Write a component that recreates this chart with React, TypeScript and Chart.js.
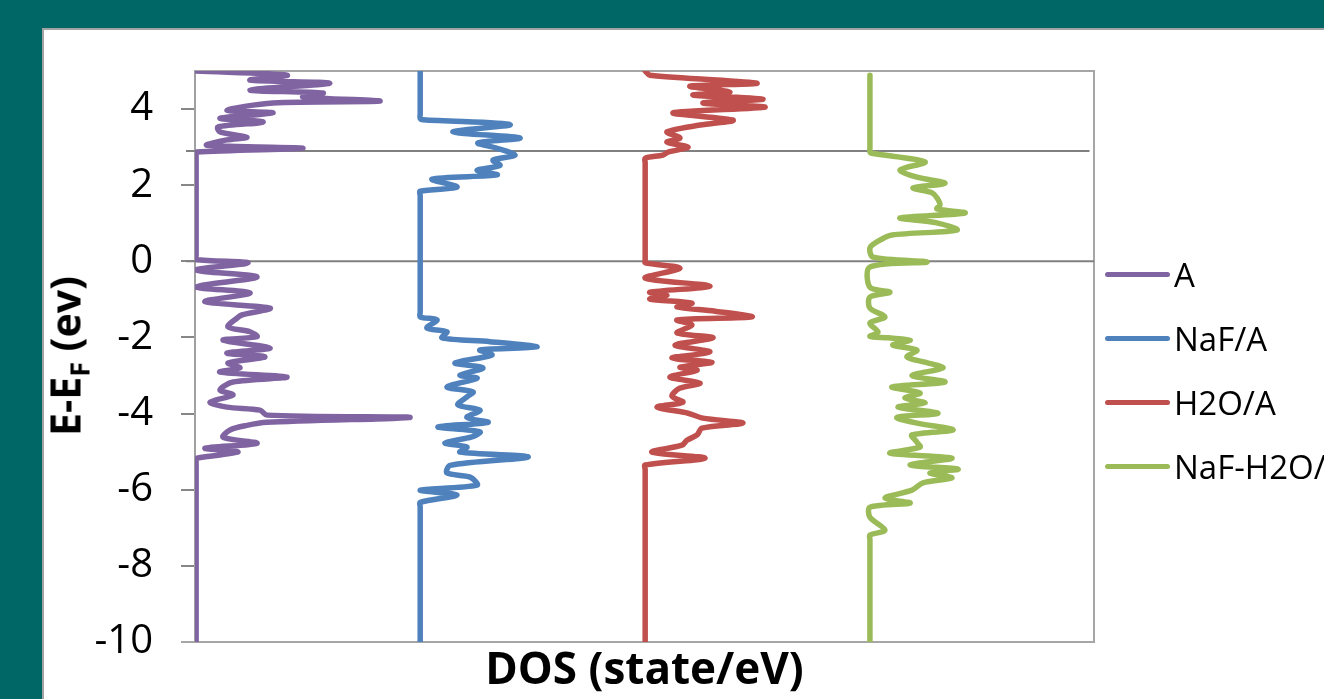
import React, { useEffect, useRef } from "react";
import { Chart, registerables } from "chart.js";

Chart.register(...registerables);

// ---------- data ----------
const seriesNames = ["A", "NaF/A", "H2O/A", "NaF-H2O/A"];
const seriesColors = ["#8064A2", "#4F81BD", "#C0504D", "#9BBB59"];
const seriesOffsets = [0, 10, 20, 30];

const aEnergy = [5.0, 4.89, 4.76, 4.68, 4.5, 4.42, 4.32, 4.21, 4.16, 3.97, 3.9, 3.76, 3.66, 3.53, 3.4, 3.26, 3.19, 3.05, 2.97, 2.87, 2.8, 2.68, 0.15, 0.05, -0.04, -0.23, -0.41, -0.67, -0.83, -1.06, -1.23, -1.41, -1.49, -1.72, -1.85, -1.98, -2.07, -2.28, -2.41, -2.51, -2.67, -2.8, -2.91, -3.04, -3.17, -3.38, -3.51, -3.7, -3.83, -3.91, -4.04, -4.1, -4.23, -4.31, -4.43, -4.62, -4.78, -4.91, -5.01, -5.17, -5.25, -5.37, -10];
const aDos = [0.05, 4.1, 2.45, 6.0, 2.45, 5.7, 4.8, 8.23, 3.47, 1.42, 3.47, 1.11, 3.03, 1.02, 1.11, 2.31, 1.42, 0.53, 4.8, 0.09, 0.05, 0.05, 0.05, 0.05, 2.36, 0.05, 2.76, 0.05, 2.45, 0.44, 3.34, 2.08, 1.87, 1.47, 2.45, 2.76, 1.25, 3.34, 1.42, 3.11, 1.47, 2.0, 1.11, 4.09, 1.69, 1.11, 1.69, 0.67, 1.42, 2.89, 3.2, 9.57, 3.2, 2.31, 1.56, 1.25, 2.76, 0.44, 1.91, 0.09, 0.05, 0.05, 0.05];

const nafEnergy = [5.0, 3.88, 3.76, 3.72, 3.59, 3.4, 3.24, 3.11, 2.97, 2.79, 2.66, 2.52, 2.39, 2.27, 2.16, 1.95, 1.84, 1.72, -1.34, -1.46, -1.54, -1.75, -1.85, -2.01, -2.11, -2.25, -2.33, -2.46, -2.67, -2.8, -2.99, -3.07, -3.3, -3.43, -3.56, -3.77, -3.91, -4.1, -4.23, -4.35, -4.48, -4.61, -4.77, -4.88, -5.01, -5.14, -5.36, -5.56, -5.67, -5.88, -6.01, -6.14, -6.33, -6.45, -10];
const nafDos = [0.02, 0.02, 0.02, 0.15, 4.02, 1.48, 4.46, 2.59, 3.44, 4.24, 3.26, 3.57, 2.55, 3.44, 0.55, 1.66, 0.02, 0.02, 0.02, 0.02, 0.77, 0.32, 1.21, 0.99, 3.13, 5.22, 2.68, 3.21, 1.57, 2.81, 1.79, 2.55, 1.21, 2.37, 2.1, 1.7, 2.68, 2.1, 3.04, 0.81, 2.68, 2.32, 1.12, 2.1, 1.79, 4.82, 1.35, 1.21, 2.24, 2.55, 0.02, 1.66, 0.02, 0.02, 0.02];

const h2oEnergy = [5.0, 4.89, 4.68, 4.6, 4.45, 4.37, 4.26, 4.16, 4.05, 3.9, 3.71, 3.58, 3.4, 3.24, 3.13, 3.0, 2.87, 2.79, 2.71, 2.59, 0.15, 0.03, -0.04, -0.18, -0.44, -0.65, -0.81, -0.89, -0.99, -1.1, -1.2, -1.31, -1.46, -1.54, -1.67, -1.88, -2.01, -2.2, -2.38, -2.54, -2.65, -2.78, -2.86, -3.04, -3.2, -3.33, -3.54, -3.7, -3.83, -3.99, -4.12, -4.25, -4.38, -4.56, -4.7, -4.83, -5.01, -5.17, -5.35, -5.47, -10];
const h2oDos = [0.03, 0.24, 5.0, 2.02, 3.8, 2.16, 5.27, 2.6, 5.36, 1.27, 3.94, 2.47, 1.0, 1.58, 1.0, 1.94, 1.05, 0.82, 0.03, 0.03, 0.03, 0.03, 0.03, 1.58, 0.03, 2.91, 0.24, 1.0, 0.24, 2.11, 1.45, 3.14, 4.78, 1.45, 2.11, 1.45, 3.05, 1.36, 2.91, 1.22, 3.0, 1.58, 2.34, 1.13, 2.47, 1.58, 1.22, 1.71, 0.56, 1.94, 2.6, 4.38, 2.56, 2.34, 1.89, 1.67, 0.33, 2.69, 0.03, 0.03, 0.03];

const nafH2oEnergy = [4.89, 2.99, 2.87, 2.84, 2.61, 2.4, 2.21, 2.05, 1.93, 1.8, 1.67, 1.48, 1.38, 1.27, 1.14, 1.01, 0.82, 0.69, 0.51, 0.35, 0.11, -0.02, -0.15, -0.68, -0.81, -0.94, -1.23, -1.46, -1.62, -1.86, -1.97, -2.01, -2.07, -2.2, -2.33, -2.51, -2.65, -2.8, -3.0, -3.17, -3.3, -3.46, -3.59, -3.72, -3.83, -3.99, -4.1, -4.25, -4.43, -4.56, -4.75, -4.88, -5.04, -5.17, -5.35, -5.46, -5.56, -5.69, -5.82, -6.01, -6.22, -6.35, -6.46, -6.72, -7.06, -7.19, -7.31, -10];
const nafH2oDos = [0.03, 0.03, 0.03, 0.1, 2.48, 1.37, 2.12, 3.37, 1.95, 2.79, 3.01, 3.15, 3.01, 4.26, 1.37, 3.01, 3.9, 1.01, 0.34, 0.03, 0.17, 2.57, 0.03, 0.03, 0.92, 0.03, 0.03, 0.7, 0.03, 0.39, 0.03, 0.83, 1.82, 1.05, 2.12, 1.68, 2.48, 3.28, 1.9, 3.37, 1.01, 2.26, 1.59, 2.48, 1.28, 3.06, 1.23, 2.12, 3.73, 1.9, 2.12, 2.26, 0.92, 3.68, 1.82, 3.95, 2.7, 3.68, 2.39, 1.9, 0.7, 1.82, 0.03, 0.03, 0.7, 0.03, 0.03, 0.03];

const seriesEnergies = [aEnergy, nafEnergy, h2oEnergy, nafH2oEnergy];
const seriesDos = [aDos, nafDos, h2oDos, nafH2oDos];

const yTickValues = [4, 2, 0, -2, -4, -6, -8, -10];
const refLineEnergies = [0, 2.9];

const FONT = "'Open Sans', 'DejaVu Sans', sans-serif";

const framePlugin = {
  id: "frame",
  beforeDatasetsDraw(chart: any) {
    const { ctx, chartArea: a, scales } = chart;
    const y = scales.y;
    const x = scales.x;
    ctx.save();
    ctx.lineWidth = 2;
    ctx.strokeStyle = "#a6a6a6";
    ctx.beginPath();
    ctx.moveTo(a.left, a.top);
    ctx.lineTo(a.right, a.top);
    ctx.lineTo(a.right, a.bottom);
    ctx.lineTo(a.left - 14, a.bottom);
    ctx.stroke();
    ctx.strokeStyle = "#808080";
    refLineEnergies.forEach((e, i) => {
      const py = y.getPixelForValue(e);
      ctx.beginPath();
      ctx.moveTo(x.getPixelForValue(-0.4), py);
      ctx.lineTo(x.getPixelForValue(i === 0 ? 40 : 39.8), py);
      ctx.stroke();
    });
    ctx.restore();
  },
};

export default function App() {
  const canvasRef = useRef<HTMLCanvasElement | null>(null);

  useEffect(() => {
    const canvas = canvasRef.current;
    if (!canvas) return;
    const chart = new Chart(canvas, {
      type: "scatter",
      data: {
        datasets: seriesNames.map((name, i) => ({
          label: name,
          data: seriesEnergies[i].map((e, k) => ({ x: seriesDos[i][k] + seriesOffsets[i], y: e })),
          showLine: true,
          borderColor: seriesColors[i],
          backgroundColor: seriesColors[i],
          borderWidth: 5.5,
          pointRadius: 0,
          pointHoverRadius: 0,
          tension: 0.3,
          borderCapStyle: "round",
          borderJoinStyle: "round",
          fill: false,
        })),
      },
      options: {
        responsive: false,
        animation: false,
        events: [],
        layout: { padding: { top: 71, right: 230, left: 0, bottom: 0 } },
        plugins: { legend: { display: false }, tooltip: { enabled: false } },
        scales: {
          x: {
            type: "linear",
            min: 0,
            max: 40,
            grid: { display: false },
            border: { display: false },
            ticks: { display: false },
            title: {
              display: true,
              text: "DOS (state/eV)",
              color: "#000",
              font: { family: FONT, size: 44, weight: "bold" },
              padding: { top: 0, bottom: 1 },
            },
            afterFit: (s: any) => {
              s.height = 57;
            },
          },
          y: {
            type: "linear",
            min: -10,
            max: 5,
            afterBuildTicks: (s: any) => {
              s.ticks = yTickValues.map((v) => ({ value: v }));
            },
            ticks: {
              color: "#000",
              font: { family: FONT, size: 40 },
              padding: 28,
              callback: (v: any) => String(v),
            },
            grid: { drawOnChartArea: false, drawTicks: true, tickLength: 14, color: "#878787", lineWidth: 2 },
            border: { display: true, color: "#a0a0a0", width: 2 },
            afterFit: (s: any) => {
              s.width = 195;
            },
          },
        },
      },
      plugins: [framePlugin],
    } as any);
    return () => chart.destroy();
  }, []);

  return (
    <div style={{ position: "fixed", left: 0, top: 0, width: 1324, height: 699, overflow: "hidden", background: "#006666" }}>
      <div
        style={{
          position: "absolute",
          left: 42,
          top: 28,
          width: 1400,
          height: 800,
          background: "#ffffff",
          border: "2px solid #a3a3a3",
          boxSizing: "border-box",
        }}
      />
      <canvas
        ref={canvasRef}
        width={1324}
        height={699}
        style={{ position: "absolute", left: 0, top: 0, width: 1324, height: 699 }}
      />
      <div
        style={{
          position: "absolute",
          left: 65,
          top: 356,
          transform: "translate(-50%, -50%) rotate(-90deg)",
          fontFamily: FONT,
          fontWeight: "bold",
          fontSize: 41,
          lineHeight: 1,
          whiteSpace: "nowrap",
          color: "#000",
        }}
      >
        E-E<span style={{ fontSize: 27, position: "relative", top: 9 }}>F</span> (ev)
      </div>
      {seriesNames.map((name, i) => (
        <div
          key={name}
          style={{
            position: "absolute",
            left: 1105,
            top: 274 + i * 64.3 - 20,
            height: 40,
            display: "flex",
            alignItems: "center",
            whiteSpace: "nowrap",
          }}
        >
          <span
            style={{ display: "inline-block", width: 65, height: 5, borderRadius: 3, background: seriesColors[i] }}
          />
          <span style={{ marginLeft: 4, fontFamily: FONT, fontSize: 33, lineHeight: 1, color: "#000" }}>{name}</span>
        </div>
      ))}
    </div>
  );
}
